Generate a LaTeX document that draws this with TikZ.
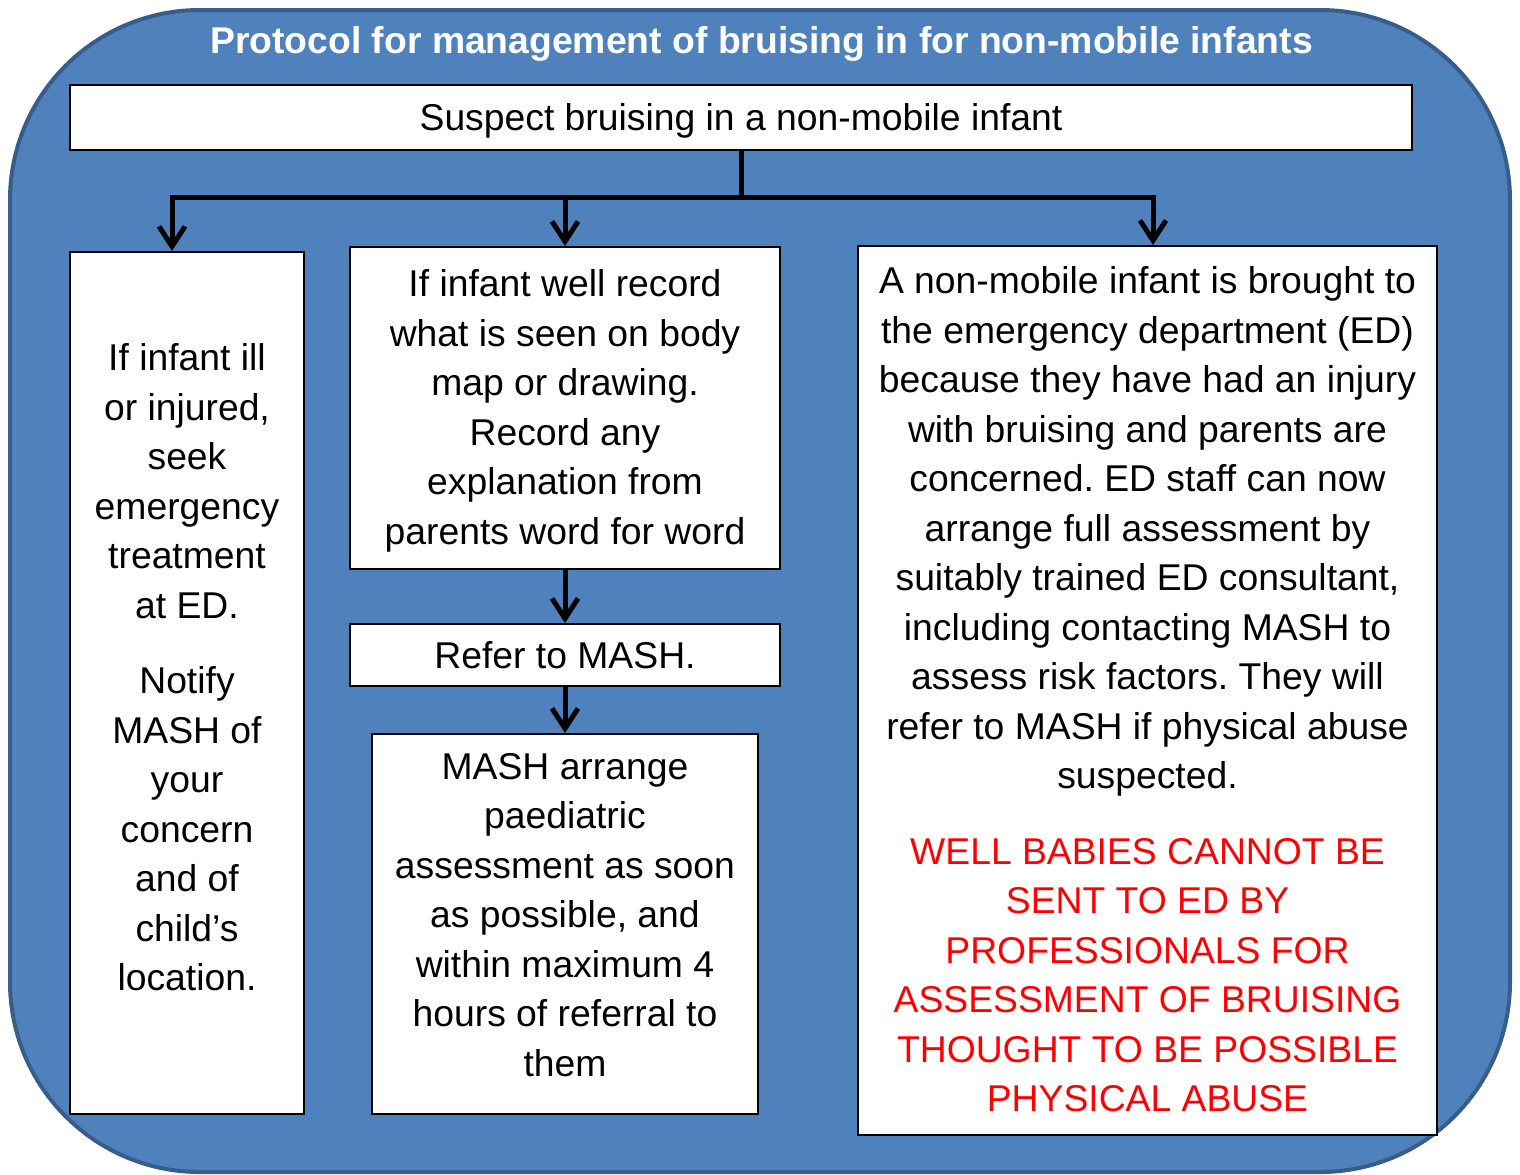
\documentclass[tikz,border=0pt]{standalone}
\usepackage{fontspec}
\setmainfont{Liberation Sans}
\usetikzlibrary{arrows.meta}
\definecolor{mashblue}{RGB}{79,129,189}
\definecolor{mashedge}{RGB}{56,93,138}
\definecolor{mashred}{RGB}{255,0,0}
\frenchspacing

\begin{document}
\begin{tikzpicture}[x=0.5pt,y=-0.5pt,
    every node/.style={font=\fontsize{18.65}{24.75}\selectfont},
    box/.style={draw=black,line width=1pt,fill=white,align=center,inner sep=0pt},
    arr/.style={-{Straight Barb[length=10pt,width=13pt]},line width=2.5pt}]
      \useasboundingbox (0,0) rectangle (1520,1174);
      % Panel
      \draw[draw=mashedge,line width=2pt,fill=mashblue,rounded corners=95pt] (10,10) rectangle (1510,1172);
      \node[text=white,font=\bfseries\fontsize{18.65}{24.75}\selectfont] (title) at (761.5,43.5) {Protocol for management of bruising in for non-mobile infants};
      % Top box
      \node[box,minimum width=671pt,minimum height=32.5pt,text height=16.6pt] (suspect) at (741,117.5) {Suspect bruising in a non-mobile infant};
      % Left column
      \node[box,minimum width=117pt,minimum height=431pt] (ill) at (187,683) {If infant ill\\or injured,\\seek\\emergency\\treatment\\at ED.\\[13pt]Notify\\MASH of\\your\\concern\\and of\\child’s\\location.\rule[-16pt]{0pt}{0pt}};
      % Middle column
      \node[box,minimum width=215pt,minimum height=161pt] (well) at (565,408) {\rule{0pt}{16.6pt}If infant well record\\what is seen on body\\map or drawing.\\Record any\\explanation from\\parents word for word};
      \node[box,minimum width=215pt,minimum height=31pt] (refer) at (565,655) {Refer to MASH.};
      \node[box,minimum width=193pt,minimum height=190pt] (mash) at (565,924) {MASH arrange\\paediatric\\assessment as soon\\as possible, and\\within maximum 4\\hours of referral to\\them\rule[-9.5pt]{0pt}{0pt}};
      % Right column
      \node[box,minimum width=289.5pt,minimum height=444.5pt] (ed) at (1147.5,690.5) {A non-mobile infant is brought to\\the emergency department (ED)\\because they have had an injury\\with bruising and parents are\\concerned. ED staff can now\\arrange full assessment by\\suitably trained ED consultant,\\including contacting MASH to\\assess risk factors. They will\\refer to MASH if physical abuse\\suspected.\\[13pt]\textcolor{mashred}{WELL BABIES CANNOT BE}\\\textcolor{mashred}{SENT TO ED BY}\\\textcolor{mashred}{PROFESSIONALS FOR}\\\textcolor{mashred}{ASSESSMENT OF BRUISING}\\\textcolor{mashred}{THOUGHT TO BE POSSIBLE}\\\textcolor{mashred}{PHYSICAL ABUSE}\rule[-1.5pt]{0pt}{0pt}};
      % Arrows
      \coordinate (jl) at (172,197);
      \coordinate (jr) at (1153,197);
      \draw[arr] (suspect.south) |- (jl) -- (jl |- ill.north);
      \draw[arr] (suspect.south) |- (jr) -- (jr |- ed.north);
      \draw[arr] (well.north |- jl) -- (well.north);
      \draw[arr] (well) -- (refer);
      \draw[arr] (refer) -- (mash);
    \end{tikzpicture}
\end{document}
